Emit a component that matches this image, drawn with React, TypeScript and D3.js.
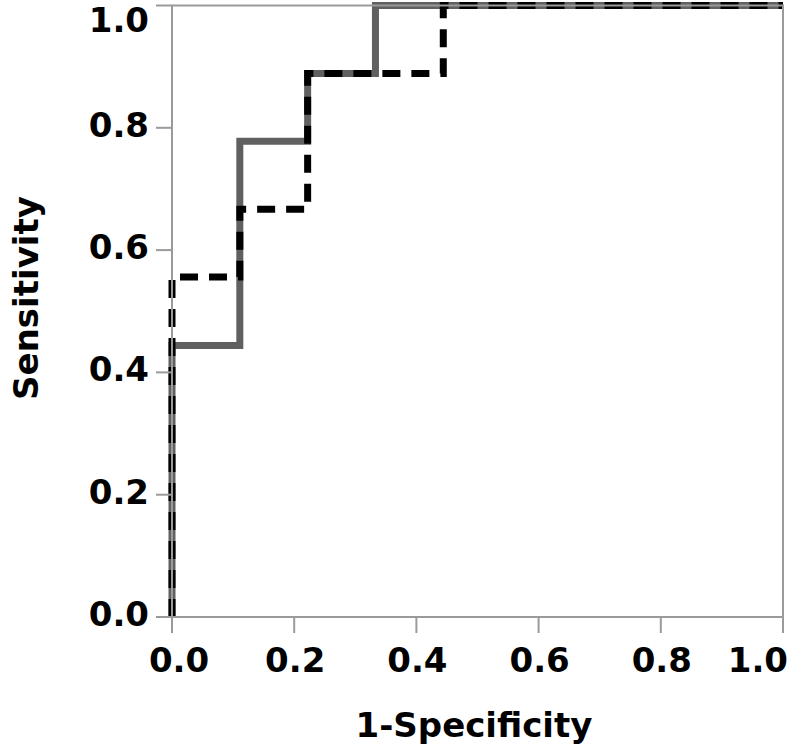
import React from "react";
import * as d3 from "d3";

const solidX = [0, 0, 0.111, 0.111, 0.222, 0.222, 0.333, 0.333, 1];
const solidY = [0, 0.444, 0.444, 0.778, 0.778, 0.889, 0.889, 1, 1];
const dashedX = [0, 0, 0.111, 0.111, 0.222, 0.222, 0.444, 0.444, 1];
const dashedY = [0, 0.556, 0.556, 0.667, 0.667, 0.889, 0.889, 1, 1];
const ticks = [0, 0.2, 0.4, 0.6, 0.8, 1.0];
const tickLabels = ["0.0", "0.2", "0.4", "0.6", "0.8", "1.0"];

const W = 789;
const H = 751;
const FONT = "'DejaVu Sans', Verdana, sans-serif";

export default function App() {
  const x = d3.scaleLinear().domain([0, 1]).range([172, 783]);
  const y = d3.scaleLinear().domain([0, 1]).range([617, 5.5]);
  const line = d3
    .line<[number, number]>()
    .x((d) => x(d[0]))
    .y((d) => y(d[1]));
  const solid = solidX.map((v, i) => [v, solidY[i]] as [number, number]);
  const dashed = dashedX.map((v, i) => [v, dashedY[i]] as [number, number]);
  const axisColor = "#9a9a9a";

  return (
    <svg
      width={W}
      height={H}
      style={{ position: "absolute", left: 0, top: 0, background: "#fff" }}
      fontFamily={FONT}
    >
      <rect x={0} y={0} width={W} height={H} fill="#fff" />
      <path d={line(solid) || ""} fill="none" stroke="#606060" strokeWidth={7} strokeLinejoin="miter" />
      <path
        d={line(dashed) || ""}
        fill="none"
        stroke="#000"
        strokeWidth={7}
        strokeDasharray="18,11"
      />
      {/* frame */}
      <rect
        x={x(0)}
        y={y(1)}
        width={x(1) - x(0)}
        height={y(0) - y(1)}
        fill="none"
        stroke={axisColor}
        strokeWidth={2}
      />
      {/* y ticks */}
      {ticks.map((t, i) => (
        <g key={"y" + i}>
          <line x1={156} x2={x(0)} y1={y(t)} y2={y(t)} stroke={axisColor} strokeWidth={2} />
          <text
            x={149}
            y={i === ticks.length - 1 ? 32 : y(t) + 9}
            textAnchor="end"
            fontSize={34}
            fontWeight="bold"
            fill="#000"
          >
            {tickLabels[i]}
          </text>
        </g>
      ))}
      {/* x ticks */}
      {ticks.map((t, i) => (
        <g key={"x" + i}>
          <line x1={x(t)} x2={x(t)} y1={y(0)} y2={633} stroke={axisColor} strokeWidth={2} />
          <text
            x={i === 0 ? x(t) + 7 : i === ticks.length - 1 ? 788 : x(t) + 1}
            y={672}
            textAnchor={i === ticks.length - 1 ? "end" : "middle"}
            fontSize={34}
            fontWeight="bold"
            fill="#000"
          >
            {tickLabels[i]}
          </text>
        </g>
      ))}
      <text x={474} y={737} textAnchor="middle" fontSize={34} fontWeight="bold" fill="#000">
        1-Specificity
      </text>
      <text
        transform={`translate(38,298) rotate(-90)`}
        textAnchor="middle"
        fontSize={34}
        fontWeight="bold"
        fill="#000"
      >
        Sensitivity
      </text>
    </svg>
  );
}
